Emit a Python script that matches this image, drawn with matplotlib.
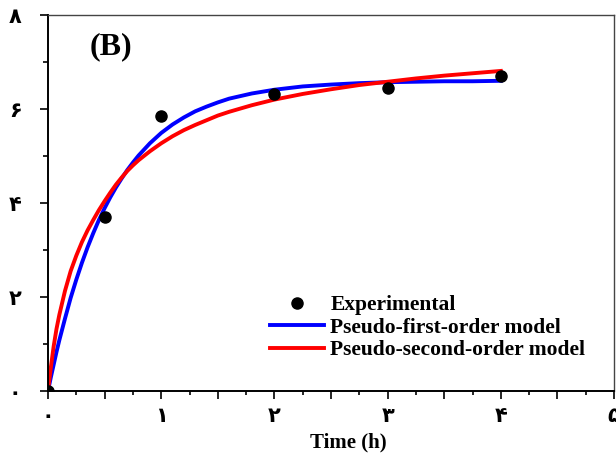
import matplotlib
matplotlib.use("Agg")
import matplotlib.pyplot as plt
from matplotlib.ticker import MultipleLocator

# experimental points (time in h, q)
time_exp = [0, 0.5, 1, 2, 3, 4]
q_exp = [0.0, 3.70, 5.85, 6.32, 6.45, 6.70]

# model curves
time_model = [0, 0.025, 0.05, 0.075, 0.1, 0.15, 0.2, 0.25, 0.3, 0.35, 0.4, 0.45, 0.5,
              0.55, 0.6, 0.65, 0.7, 0.75, 0.8, 0.9, 1.0, 1.1, 1.2, 1.3, 1.4, 1.5, 1.6,
              1.8, 2.0, 2.25, 2.5, 2.75, 3.0, 3.25, 3.5, 3.75, 4.0]
q_first = [0.0, 0.29, 0.56, 0.83, 1.08, 1.54, 1.98, 2.37, 2.73, 3.06, 3.36, 3.64, 3.89,
           4.12, 4.33, 4.52, 4.70, 4.86, 5.01, 5.27, 5.49, 5.67, 5.82, 5.95, 6.05, 6.14, 6.22,
           6.33, 6.41, 6.48, 6.52, 6.55, 6.57, 6.58, 6.59, 6.59, 6.60]
q_second = [0.0, 0.50, 0.95, 1.32, 1.62, 2.13, 2.55, 2.88, 3.17, 3.42, 3.64, 3.85, 4.04,
            4.22, 4.39, 4.54, 4.68, 4.80, 4.91, 5.10, 5.27, 5.42, 5.55, 5.66, 5.76, 5.86, 5.94,
            6.08, 6.20, 6.32, 6.42, 6.51, 6.58, 6.65, 6.71, 6.76, 6.81]

x_ticks = [0, 0.5, 1, 1.5, 2, 2.5, 3, 3.5, 4, 4.5, 5]
x_tick_labels = ['۰', '', '۱', '', '۲', '', '۳', '', '۴', '', '۵']
y_ticks = [0, 2, 4, 6, 8]
y_tick_labels = ['۰', '۲', '۴', '۶', '۸']

serif = ['Liberation Serif', 'DejaVu Serif']
digit_font = ['DejaVu Sans']

fig = plt.figure(figsize=(6.16, 4.53), dpi=100)
ax = fig.add_axes([48 / 616, 1 - 391 / 453, 566 / 616, 376 / 453])

ax.plot(time_model, q_first, color='#0000ff', lw=2.8, solid_joinstyle='round',
        label='Pseudo-first-order model', zorder=2)
ax.plot(time_model, q_second, color='#ff0000', lw=2.8, solid_joinstyle='round',
        label='Pseudo-second-order model', zorder=2)
ax.plot(time_exp, q_exp, 'o', color='black', ms=8, label='Experimental', zorder=3)

ax.set_xlim(0, 5)
ax.set_ylim(0, 8)

ax.set_xticks(x_ticks)
ax.set_xticklabels(x_tick_labels, family=digit_font, fontweight='bold', fontsize=15)
ax.xaxis.set_minor_locator(MultipleLocator(0.25))
ax.set_yticks(y_ticks)
ax.set_yticklabels(y_tick_labels, family=digit_font, fontweight='bold', fontsize=15)
ax.yaxis.set_minor_locator(MultipleLocator(1))

ax.tick_params(axis='x', which='major', direction='out', length=5.5, width=1.2, pad=5)
ax.tick_params(axis='x', which='minor', direction='out', length=3, width=1.2)
ax.tick_params(axis='y', which='major', direction='out', length=6, width=1.2, pad=13)
ax.tick_params(axis='y', which='minor', direction='out', length=3.5, width=1.2)

for side in ['left', 'bottom']:
    ax.spines[side].set_linewidth(1.4)
for side in ['top', 'right']:
    ax.spines[side].set_linewidth(1.0)
    ax.spines[side].set_color('#444444')

ax.set_xlabel('Time (h)', family=serif, fontweight='bold', fontsize=15)
ax.xaxis.set_label_coords(0.53, -0.11)

ax.text(0.074, 0.915, '(B)', transform=ax.transAxes, family=serif,
        fontweight='bold', fontsize=23, va='center', ha='left')

handles, labels = ax.get_legend_handles_labels()
order = [2, 0, 1]
ax.legend([handles[i] for i in order], [labels[i] for i in order],
          loc='upper left', bbox_to_anchor=(270 / 616, 1 - 295 / 453),
          bbox_transform=fig.transFigure, frameon=False, borderpad=0,
          borderaxespad=0, handlelength=2.5, handletextpad=0.3, labelspacing=0.12,
          prop={'family': serif, 'weight': 'bold', 'size': 15.5})

fig.savefig('out.png', dpi=100)
